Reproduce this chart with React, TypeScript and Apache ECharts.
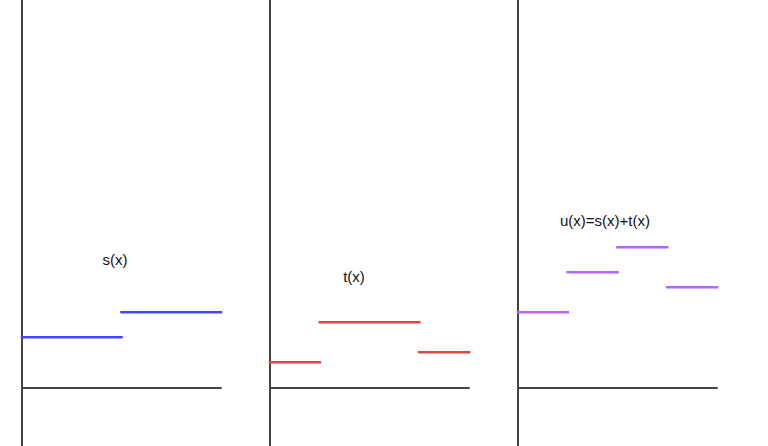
import React, { useEffect, useRef } from "react";
import * as echarts from "echarts";

// step functions: breakpoints on x and the value on each interval
const sBreaks = [0, 2, 4];
const sValues = [2, 3];
const tBreaks = [0, 1, 3, 4];
const tValues = [1, 2.6, 1.4];
const uBreaks = [0, 1, 2, 3, 4];
const uValues = [3, 4.6, 5.6, 4];

const panelLabels = ["s(x)", "t(x)", "u(x)=s(x)+t(x)"];
const panelColors = ["#4545ff", "#e04545", "#b266ff"];

export default function App() {
  const ref = useRef<HTMLDivElement>(null);
  useEffect(() => {
    if (!ref.current) return;
    const chart = echarts.init(ref.current, undefined, { renderer: "svg" });
    const panels = [
      { breaks: sBreaks, values: sValues },
      { breaks: tBreaks, values: tValues },
      { breaks: uBreaks, values: uValues },
    ];
    const lefts = [22, 270, 518];
    const labelPos = [
      [115, 259],
      [354, 276],
      [605, 220],
    ];
    const axisStyle = { color: "#444", width: 2 };
    const grid = lefts.map((l) => ({ left: l, width: 199, top: 0, height: 446 }));
    const xAxis = lefts.map((_, i) => ({
      type: "value" as const,
      gridIndex: i,
      min: 0,
      max: 4,
      axisLine: { show: true, onZero: true, lineStyle: axisStyle },
      axisTick: { show: false },
      axisLabel: { show: false },
      splitLine: { show: false },
    }));
    const yAxis = lefts.map((_, i) => ({
      type: "value" as const,
      gridIndex: i,
      min: -2.35,
      max: 15.5,
      axisLine: { show: true, onZero: true, lineStyle: axisStyle },
      axisTick: { show: false },
      axisLabel: { show: false },
      splitLine: { show: false },
    }));
    const series: any[] = [];
    panels.forEach((p, i) => {
      p.values.forEach((v, k) => {
        series.push({
          type: "line",
          xAxisIndex: i,
          yAxisIndex: i,
          data: [
            [p.breaks[k], v],
            [p.breaks[k + 1], v],
          ],
          symbol: "none",
          silent: true,
          lineStyle: { color: panelColors[i], width: 2.5, cap: "square" },
        });
      });
    });
    chart.setOption({
      animation: false,
      backgroundColor: "#fff",
      grid,
      xAxis,
      yAxis,
      series,
      graphic: panelLabels.map((t, i) => ({
        type: "text",
        x: labelPos[i][0],
        y: labelPos[i][1],
        style: {
          text: t,
          fontSize: 15,
          fontFamily: "Liberation Sans, Arial, sans-serif",
          fill: "#111",
          align: "center",
          verticalAlign: "middle",
        },
      })),
    });
    return () => chart.dispose();
  }, []);
  return (
    <div
      ref={ref}
      style={{ position: "fixed", left: 0, top: 0, width: 768, height: 446 }}
    />
  );
}
